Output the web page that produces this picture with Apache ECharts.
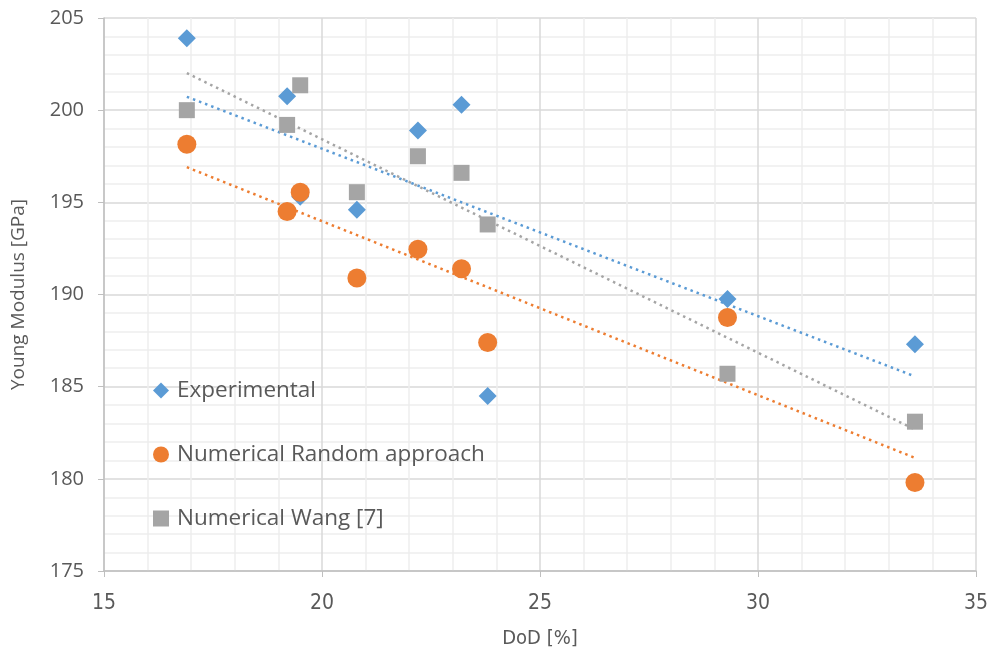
<!DOCTYPE html>
<html><head><meta charset="utf-8">
<script src="https://cdn.jsdelivr.net/npm/echarts@6/dist/echarts.min.js"></script>
<style>html,body{margin:0;padding:0;background:#fff}#c{width:990px;height:653px}</style>
</head><body><div id="c"></div>
<script>
const xTicks = [15, 20, 25, 30, 35];
const yTicks = [175, 180, 185, 190, 195, 200, 205];
const expX = [16.9, 19.2, 19.5, 20.8, 22.2, 23.2, 23.8, 29.3, 33.6];
const expY = [203.9, 200.75, 195.3, 194.6, 198.9, 200.3, 184.5, 189.75, 187.3];
const rndX = [16.9, 19.2, 19.5, 20.8, 22.2, 23.2, 23.8, 29.3, 33.6];
const rndY = [198.15, 194.5, 195.55, 190.9, 192.45, 191.4, 187.4, 188.75, 179.8];
const wangX = [16.9, 19.2, 19.5, 20.8, 22.2, 23.2, 23.8, 29.3, 33.6];
const wangY = [200.0, 199.2, 201.35, 195.55, 197.5, 196.6, 193.8, 185.7, 183.1];
const names = ['Experimental', 'Numerical Random approach', 'Numerical Wang [7]'];
const colors = ['#5B9BD5', '#ED7D31', '#A5A5A5'];

function pairs(xs, ys) { return xs.map((x, i) => [x, ys[i]]); }
function trend(xs, ys) {
  const n = xs.length;
  const mx = xs.reduce((a, b) => a + b, 0) / n, my = ys.reduce((a, b) => a + b, 0) / n;
  let sxy = 0, sxx = 0;
  for (let i = 0; i < n; i++) { sxy += (xs[i] - mx) * (ys[i] - my); sxx += (xs[i] - mx) ** 2; }
  const b = sxy / sxx, a = my - b * mx;
  const x0 = Math.min(...xs), x1 = Math.max(...xs);
  return [[x0, a + b * x0], [x1, a + b * x1]];
}
const sets = [[expX, expY], [rndX, rndY], [wangX, wangY]];
const symbols = ['diamond', 'circle', 'rect'];
const sizes = [[18, 18], 19, 16];
const narrow = '"Liberation Sans Narrow", "DejaVu Sans Condensed", Roboto';

const series = [];
sets.forEach((s, i) => {
  series.push({
    type: 'line', data: trend(s[0], s[1]), showSymbol: false, silent: true,
    lineStyle: { color: colors[i], width: 2.5, type: [2.5, 4] }, z: 1
  });
});
sets.forEach((s, i) => {
  series.push({
    name: names[i], type: 'scatter', data: pairs(s[0], s[1]),
    symbol: symbols[i], symbolSize: sizes[i],
    itemStyle: { color: colors[i], opacity: 1 }, z: 2 + i
  });
});

const chart = echarts.init(document.getElementById('c'), null, { renderer: 'canvas' });
chart.setOption({
  animation: false,
  grid: { left: 104, right: 14, top: 18, bottom: 82, containLabel: false, outerBoundsMode: 'none' },
  legend: {
    data: names.map((n, i) => ({ name: n, icon: symbols[i] })),
    orient: 'vertical', left: 148, top: 374, itemGap: 41,
    itemWidth: 16, itemHeight: 16,
    textStyle: { fontFamily: 'Open Sans', fontSize: 22.5, color: '#595959', padding: [0, 0, 0, 3] }
  },
  xAxis: {
    type: 'value', min: 15, max: 35, interval: 5,
    name: 'DoD [%]', nameLocation: 'middle', nameGap: 58,
    nameTextStyle: { fontFamily: narrow, fontSize: 20, color: '#595959' },
    axisLine: { show: true, lineStyle: { color: '#BFBFBF', width: 1.5 } },
    axisTick: { show: true, inside: false, length: 6, lineStyle: { color: '#BFBFBF' } },
    axisLabel: { fontFamily: narrow, fontSize: 21, color: '#595959', margin: 22,
      formatter: v => xTicks.includes(v) ? String(v) : '' },
    splitLine: { show: true, lineStyle: { color: '#D9D9D9', width: 1.5 } },
    minorTick: { show: false, splitNumber: 5 },
    minorSplitLine: { show: true, lineStyle: { color: '#EEEEEE', width: 1.5 } }
  },
  yAxis: {
    type: 'value', min: 175, max: 205, interval: 5,
    name: 'Young Modulus [GPa]', nameLocation: 'middle', nameGap: 76,
    nameTextStyle: { fontFamily: 'Open Sans', fontSize: 19, color: '#595959' },
    axisLine: { show: true, lineStyle: { color: '#BFBFBF', width: 1.5 } },
    axisTick: { show: true, inside: false, length: 6, lineStyle: { color: '#BFBFBF' } },
    axisLabel: { fontFamily: 'Open Sans', fontSize: 20, color: '#595959', margin: 20,
      formatter: v => yTicks.includes(v) ? String(v) : '' },
    splitLine: { show: true, lineStyle: { color: '#D9D9D9', width: 1.5 } },
    minorTick: { show: false, splitNumber: 5 },
    minorSplitLine: { show: true, lineStyle: { color: '#EEEEEE', width: 1.5 } }
  },
  series: series
});
</script></body></html>
